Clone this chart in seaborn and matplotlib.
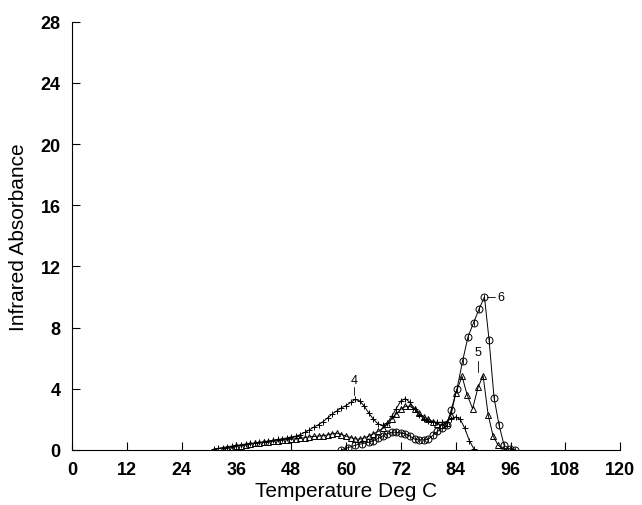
import pandas as pd
import matplotlib.pyplot as plt
import seaborn as sns

# curve 4 (crosses)
temp_4 = [31, 32, 33, 34, 35, 36, 37, 38, 39, 40, 41, 42, 43, 44, 45, 46, 47, 48, 49, 50,
          51, 52, 53, 54, 55, 56, 57, 58, 59, 60, 61, 62, 63, 64, 65, 66, 67, 68, 69, 70,
          71, 72, 73, 74, 75, 76, 77, 78, 79, 80, 81, 82, 83, 84, 85, 86, 87, 88]
abs_4 = [0.05, 0.1, 0.15, 0.2, 0.25, 0.3, 0.33, 0.38, 0.42, 0.45, 0.5, 0.52, 0.58, 0.62, 0.68,
         0.72, 0.78, 0.85, 0.9, 1.0, 1.15, 1.3, 1.5, 1.65, 1.85, 2.1, 2.35, 2.55, 2.75, 2.9,
         3.1, 3.3, 3.2, 2.85, 2.4, 2.0, 1.7, 1.6, 1.75, 2.2, 2.7, 3.2, 3.35, 3.1, 2.7, 2.3,
         2.05, 1.9, 1.85, 1.8, 1.8, 1.85, 2.05, 2.15, 2.0, 1.4, 0.6, 0.05]

# curve 5 (triangles)
temp_5 = [33, 34, 35, 36, 37, 38, 39, 40, 41, 42, 43, 44, 45, 46, 47, 48, 49, 50, 51, 52,
          53, 54, 55, 56, 57, 58, 59, 60, 61, 62, 63, 64, 65, 66, 67, 68, 69, 70, 71, 72,
          73, 74, 75, 76, 77, 78, 79, 80, 81, 82, 83, 84, 85.4, 86.5, 87.7, 88.9, 90, 91.1,
          92.2, 93.3, 94.3, 95.2]
abs_5 = [0.05, 0.1, 0.15, 0.22, 0.28, 0.32, 0.38, 0.42, 0.45, 0.5, 0.52, 0.56, 0.6, 0.63,
         0.67, 0.7, 0.72, 0.75, 0.8, 0.85, 0.88, 0.9, 0.92, 0.98, 1.05, 1.1, 1.0, 0.9, 0.8,
         0.72, 0.7, 0.78, 0.9, 1.05, 1.2, 1.4, 1.7, 2.05, 2.35, 2.65, 2.85, 2.85, 2.65, 2.4,
         2.15, 2.0, 1.85, 1.7, 1.65, 1.75, 2.3, 3.7, 4.8, 3.6, 2.7, 4.1, 4.85, 2.3, 0.9, 0.3,
         0.08, 0.0]

# curve 6 (circles)
temp_6 = [59, 60.5, 62, 63.5, 65, 66, 67, 68, 69, 70, 71, 72, 73, 74, 75, 76, 77, 78, 79,
          80, 81, 82, 83, 84.3, 85.5, 86.7, 87.9, 89.1, 90.3, 91.3, 92.4, 93.5, 94.6, 95.9, 97]
abs_6 = [0.0, 0.15, 0.3, 0.4, 0.5, 0.6, 0.75, 0.9, 1.05, 1.15, 1.15, 1.1, 1.05, 0.9, 0.7,
         0.65, 0.65, 0.7, 0.95, 1.2, 1.4, 1.6, 2.6, 4.0, 5.8, 7.4, 8.3, 9.2, 10.0, 7.2, 3.4,
         1.6, 0.3, 0.05, 0.0]

curves = [
    (temp_4, abs_4, '+'),
    (temp_5, abs_5, '^'),
    (temp_6, abs_6, 'o'),
]

sns.set_style('ticks')
plt.rcParams['font.family'] = ['Liberation Sans', 'DejaVu Sans']
plt.rcParams.update({'text.color': 'black', 'axes.labelcolor': 'black',
                     'xtick.color': 'black', 'ytick.color': 'black',
                     'axes.edgecolor': 'black'})

fig = plt.figure(figsize=(6.42, 5.06), dpi=100)
ax = fig.add_axes([0.112, 0.109, 0.854, 0.846])

for temps, vals, mk in curves:
    sns.lineplot(
        x=temps, y=vals, color='black', linewidth=0.7,
        marker=mk, markersize=5, markerfacecolor='none',
        markeredgecolor='black', markeredgewidth=0.7,
        sort=False, estimator=None, ax=ax
    )
# the circles in the original carry a small vertical bar
sns.scatterplot(x=temp_6, y=abs_6, marker='|', s=14, color='black',
                linewidth=0.6, ax=ax)

# curve labels
ax.text(61.7, 4.2, '4', fontsize=9, ha='center', va='bottom')
ax.plot([61.7, 61.7], [3.6, 4.1], color='black', lw=0.6)
ax.text(88.9, 6.0, '5', fontsize=9, ha='center', va='bottom')
ax.plot([88.9, 88.9], [5.1, 5.8], color='black', lw=0.6)
ax.text(93.2, 10.0, '6', fontsize=9, ha='left', va='center')
ax.plot([90.8, 92.6], [10.0, 10.0], color='black', lw=0.6)

ax.set_xlim(0, 120)
ax.set_ylim(0, 28)
ax.set_xticks(range(0, 121, 12))
ax.set_yticks(range(0, 29, 4))
ax.tick_params(direction='in', length=6, width=0.8, labelsize=13)
ax.tick_params(axis='x', pad=8)
ax.tick_params(axis='y', pad=8)
for lab in ax.get_xticklabels() + ax.get_yticklabels():
    lab.set_fontweight('bold')
ax.set_xlabel('Temperature Deg C', fontsize=15, labelpad=2)
ax.set_ylabel('Infrared Absorbance', fontsize=15, labelpad=9)
sns.despine(ax=ax)
for s in ax.spines.values():
    s.set_linewidth(0.8)

plt.savefig('out.png', dpi=100)
